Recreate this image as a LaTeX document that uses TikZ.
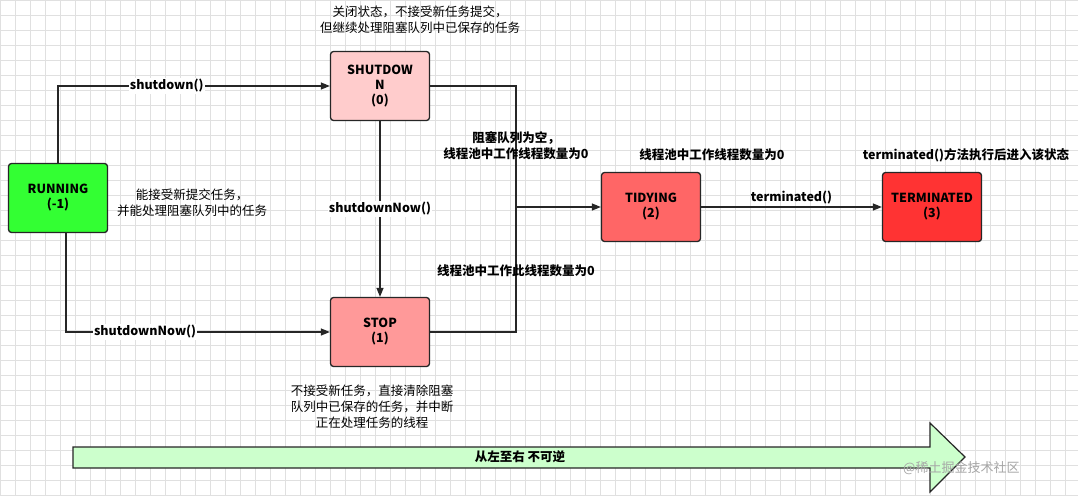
\documentclass[tikz,border=0pt]{standalone}
\usepackage{fontspec}
\setmainfont{Noto Sans CJK SC}
\usetikzlibrary{arrows.meta}
\begin{document}
\begin{tikzpicture}[x=1pt,y=-1pt,
  st/.style={draw=black!85,line width=1.3pt,rounded corners=3pt,minimum width=99pt,minimum height=69pt,align=center,font=\fontsize{12.5}{15}\selectfont\bfseries},
  ln/.style={draw=black!85,line width=1.2pt},
  ar/.style={ln,-{Triangle[length=9pt,width=7pt]}},
  lb/.style={fill=white,inner sep=1pt,font=\fontsize{12.5}{14}\selectfont\bfseries},
  tx/.style={align=center,font=\fontsize{12.5}{16}\selectfont},
  tb/.style={align=center,font=\fontsize{12.5}{16}\selectfont\bfseries}]
\useasboundingbox (0,0) rectangle (1078,496);
\fill[white] (0,0) rectangle (1078,496);
\foreach \i in {0,15,...,1078} \draw[black!12,line width=0.5pt] (\i,0) -- (\i,496);
\foreach \i in {0,15,...,496} \draw[black!12,line width=0.5pt] (0,\i) -- (1078,\i);
\node[st,fill={rgb,255:red,51;green,255;blue,51}] (run) at (58,198) {RUNNING\\(-1)};
\node[st,fill={rgb,255:red,255;green,204;blue,204}] (sd) at (380,86) {SHUTDOW\\N\\(0)};
\node[st,fill={rgb,255:red,255;green,153;blue,153}] (stop) at (380,332) {STOP\\(1)};
\node[st,fill={rgb,255:red,255;green,102;blue,102}] (tidy) at (651,207) {TIDYING\\(2)};
\node[st,fill={rgb,255:red,255;green,51;blue,51}] (term) at (932,207) {TERMINATED\\(3)};
\coordinate (j) at (516,207);
\draw[ar] (run.north) |- node[lb,pos=0.7]{shutdown()} (sd.west);
\draw[ar] ([xshift=8pt]run.south) |- node[lb,pos=0.65]{shutdownNow()} (stop.west);
\draw[ar] (sd.south) -- node[lb]{shutdownNow()} (stop.north);
\draw[ln] (sd.east) -| (j);
\draw[ln] (stop.east) -| (j);
\draw[ar] (j) -- (tidy.west);
\draw[ar] (tidy.east) -- node[lb,above=1pt,fill=none]{terminated()} (term.west);
\node[tb] (l1) at (516,146) {阻塞队列为空，\\线程池中工作线程数量为0};
\node[tb] (l2) at (516,271) {线程池中工作此线程数量为0};
\node[tb] (l3) at (712,155) {线程池中工作线程数量为0};
\node[tb] (l4) at (966,155) {terminated()方法执行后进入该状态};
\node[tx] (l5) at (192,203) {能接受新提交任务，\\并能处理阻塞队列中的任务};
\node[tx] (l6) at (420,20) {关闭状态，不接受新任务提交，\\但继续处理阻塞队列中已保存的任务};
\node[tx] (l7) at (372,407) {不接受新任务，直接清除阻塞\\队列中已保存的任务，并中断\\正在处理任务的线程};
\draw[ln,fill={rgb,255:red,204;green,255;blue,204}] (73,447) -- (930,447) -- (930,423) -- (965,457) -- (930,492) -- (930,468) -- (73,468) -- cycle;
\node[tb] (bl) at (520,457) {从左至右 不可逆};
\node[text=black!35,font=\fontsize{13}{14}\selectfont,anchor=west,inner sep=0pt] (wm) at (903,468) {@稀土掘金技术社区};
\end{tikzpicture}
\end{document}
